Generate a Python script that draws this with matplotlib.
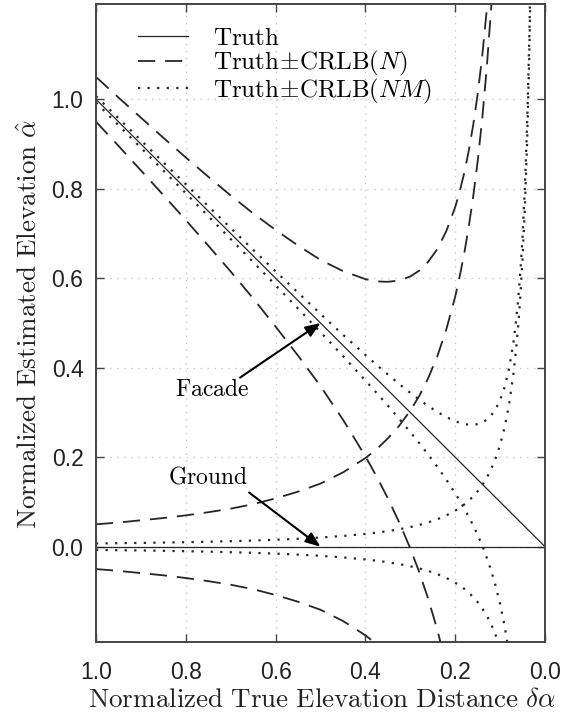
import numpy as np
import matplotlib
matplotlib.use("Agg")
import matplotlib.pyplot as plt
from matplotlib.lines import Line2D

plt.rcParams["mathtext.fontset"] = "cm"

# True elevation distance between facade and ground (normalized)
delta = [1.0, 0.95, 0.9, 0.85, 0.8, 0.75, 0.7, 0.65, 0.6, 0.55, 0.5, 0.45,
         0.4, 0.375, 0.35, 0.325, 0.3, 0.28, 0.26, 0.24, 0.22, 0.2, 0.19,
         0.18, 0.17, 0.16, 0.15, 0.14, 0.13, 0.12, 0.11, 0.10, 0.09, 0.08,
         0.07, 0.065, 0.06, 0.055, 0.05, 0.045, 0.04, 0.035, 0.03]

# CRLB (standard deviation) of the elevation estimate, N looks
crlb_n = [0.050, 0.054, 0.059, 0.064, 0.070, 0.077, 0.085, 0.095, 0.108,
          0.123, 0.141, 0.166, 0.198, 0.218, 0.242, 0.270, 0.304, 0.337,
          0.377, 0.425, 0.485, 0.559, 0.604, 0.655, 0.714, 0.782, 0.861,
          0.955, 1.067, 1.203, 1.371, 1.581, 1.852, 2.210, 2.700, 3.017,
          3.400, 3.876, 4.470, 5.240, 6.250, 7.640, 9.620]

# CRLB of the elevation estimate, N*M looks
crlb_nm = [0.0072, 0.0078, 0.0084, 0.0092, 0.0101, 0.0111, 0.0123, 0.0137,
           0.0155, 0.0177, 0.0204, 0.0239, 0.0285, 0.0314, 0.0348, 0.0389,
           0.0438, 0.0486, 0.0543, 0.0612, 0.0698, 0.0805, 0.0869, 0.0942,
           0.1027, 0.1125, 0.1239, 0.1374, 0.1536, 0.1732, 0.1974, 0.2277,
           0.2667, 0.3182, 0.3887, 0.4345, 0.4899, 0.5582, 0.6440, 0.7543,
           0.9000, 1.0996, 1.3860]

truth_delta = [1.0, 0.0]
ticks = [0.0, 0.2, 0.4, 0.6, 0.8, 1.0]
tick_labels = ["0.0", "0.2", "0.4", "0.6", "0.8", "1.0"]

d = np.array(delta)
cn = np.array(crlb_n)
cnm = np.array(crlb_nm)
facade = d
ground = np.zeros_like(d)

fig = plt.figure(figsize=(5.74, 7.13), dpi=100)
ax = fig.add_axes([0.1672, 0.0996, 0.9495 - 0.1672, 0.9944 - 0.0996])

line_col = "#262626"
dash_style = dict(color=line_col, lw=1.3, dashes=(9.5, 5.5))
dot_style = dict(color=line_col, lw=1.6, dashes=(1.0, 3.3))

# truth
ax.plot(truth_delta, truth_delta, color=line_col, lw=0.9)
ax.plot(truth_delta, [0.0, 0.0], color=line_col, lw=0.9)

# truth +- CRLB(N)
for base in (facade, ground):
    ax.plot(d, base + cn, **dash_style)
    ax.plot(d, base - cn, **dash_style)

# truth +- CRLB(NM)
for base in (facade, ground):
    ax.plot(d, base + cnm, **dot_style)
    ax.plot(d, base - cnm, **dot_style)

ax.set_xlim(1.0, 0.0)
ax.set_ylim(-0.213, 1.213)
ax.set_xticks(ticks)
ax.set_xticklabels(tick_labels)
ax.set_yticks(ticks)
ax.set_yticklabels(tick_labels)

for lab in ax.get_xticklabels() + ax.get_yticklabels():
    lab.set_fontfamily("Liberation Sans")
    lab.set_fontsize(16.5)
    lab.set_color("#222222")

ax.tick_params(direction="in", length=6, width=1.0, color="#444444",
               top=True, right=True)
ax.tick_params(axis="x", pad=13.5)
ax.tick_params(axis="y", pad=9)
for sp in ax.spines.values():
    sp.set_linewidth(1.4)
    sp.set_color("#444444")

ax.grid(True, color="#c8c8c8", lw=1.0, linestyle=(0, (1, 4)))
ax.set_axisbelow(True)

# axis titles
fig.text(0.562, 0.0085,
         r"$\mathrm{Normalized\ True\ Elevation\ Distance}\ \delta\alpha$",
         fontsize=19.5, color="#222222", ha="center", va="baseline")
fig.text(0.052, 0.546,
         r"$\mathrm{Normalized\ Estimated\ Elevation}\ \hat{\alpha}$",
         fontsize=19.5, color="#222222", ha="center", va="center",
         rotation=90)

handles = [
    Line2D([], [], color=line_col, lw=0.9),
    Line2D([], [], **dash_style),
    Line2D([], [], **dot_style),
]
labels = [r"$\mathrm{Truth}$", r"$\mathrm{Truth}\!\pm\!\mathrm{CRLB}(N)$",
          r"$\mathrm{Truth}\!\pm\!\mathrm{CRLB}(NM)$"]
ax.legend(handles, labels, loc="upper left", bbox_to_anchor=(0.054, 0.993),
          frameon=False, fontsize=18, handlelength=2.0, handletextpad=1.0,
          labelspacing=-0.05, borderpad=0.2)

arrow = dict(arrowstyle="-|>,head_length=0.9,head_width=0.35", color="black",
             lw=1.5, shrinkA=0, shrinkB=0)
ax.text(0.742, 0.352, r"$\mathrm{Facade}$", fontsize=17,
        ha="center", va="center")
ax.annotate("", xy=(0.5, 0.5), xytext=(0.679, 0.378), arrowprops=arrow)
ax.text(0.751, 0.156, r"$\mathrm{Ground}$", fontsize=17,
        ha="center", va="center")
ax.annotate("", xy=(0.5, 0.0), xytext=(0.659, 0.121), arrowprops=arrow)

fig.savefig("out.png", dpi=100)
